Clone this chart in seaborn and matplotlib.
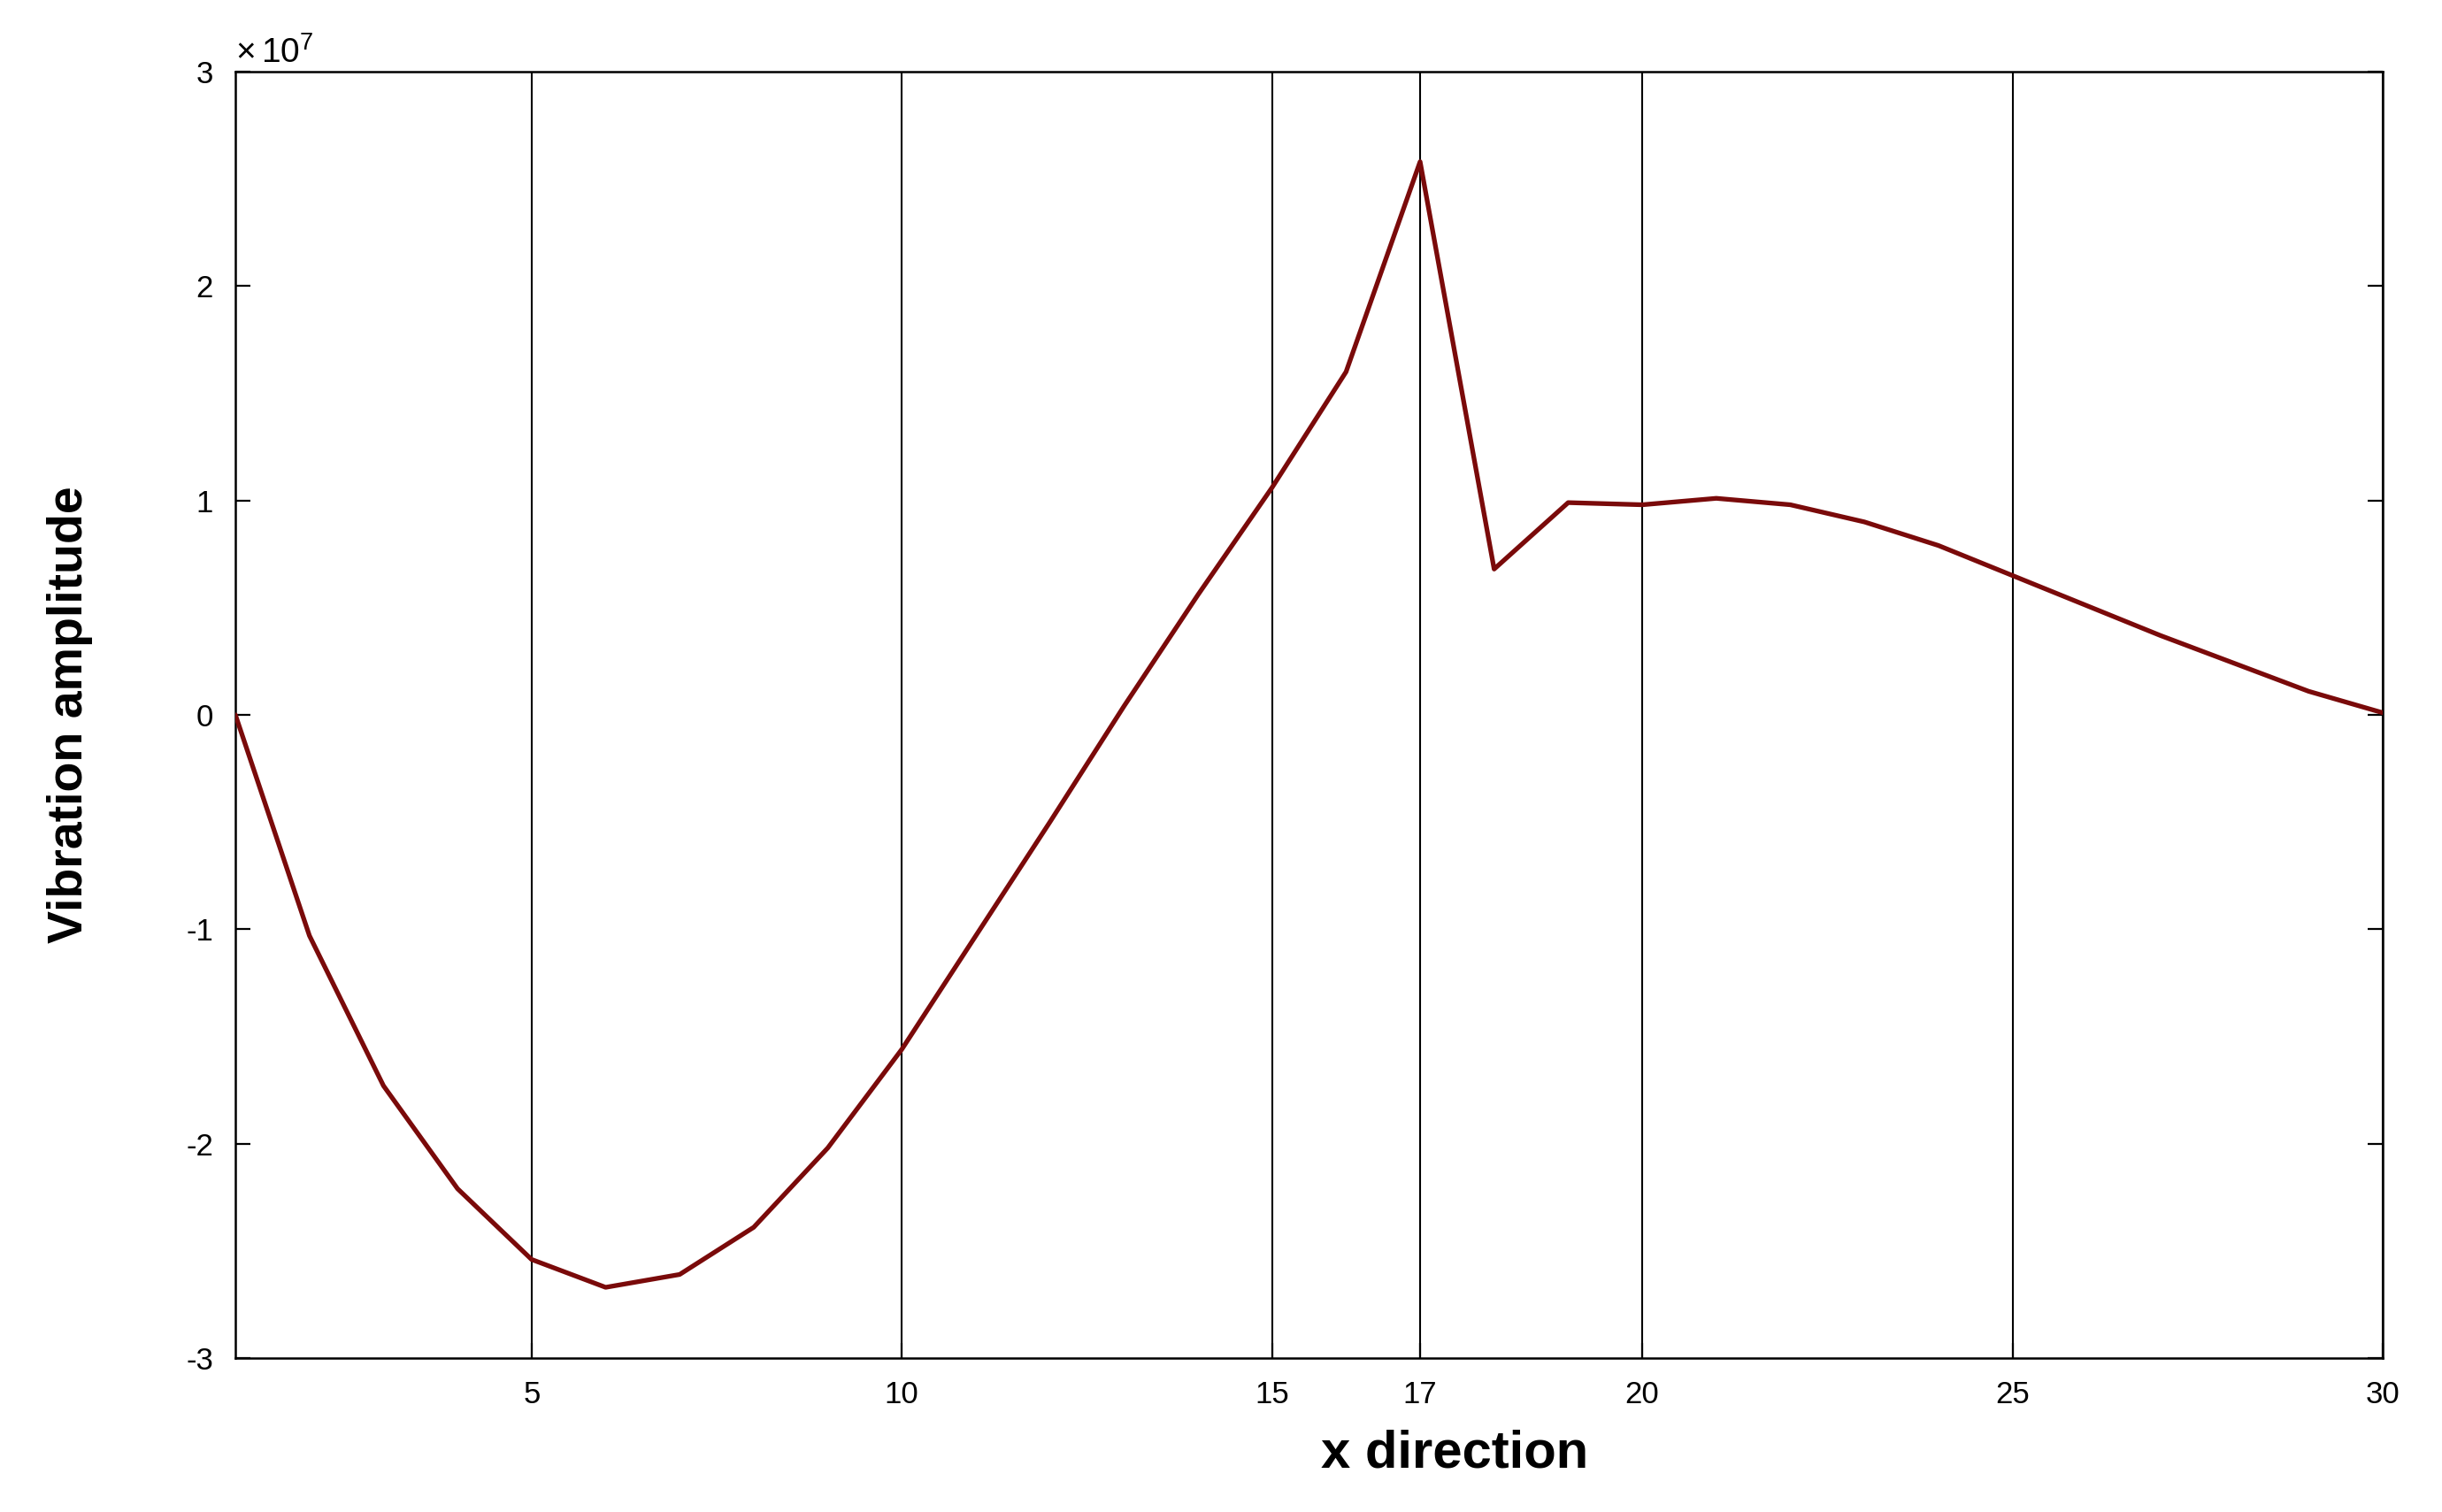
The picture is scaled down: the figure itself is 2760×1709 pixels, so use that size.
import numpy as np
import pandas as pd

import matplotlib
matplotlib.use('Agg')

import matplotlib.pyplot as plt
import matplotlib.ticker as mticker
import seaborn as sns


# =========================================================
# DATA (amplitude in units of 1e7)
# =========================================================

x_pos = list(range(1, 31))

amp_e7 = [
    0.00, -1.03, -1.73, -2.21, -2.54,
    -2.67, -2.61, -2.39, -2.02, -1.56,
    -1.03, -0.50, 0.04, 0.56, 1.06,
    1.60, 2.58, 0.68, 0.99, 0.98,
    1.01, 0.98, 0.90, 0.79, 0.65,
    0.51, 0.37, 0.24, 0.11, 0.01,
]

x_ticks = [5, 10, 15, 17, 20, 25, 30]

y_ticks = [-3, -2, -1, 0, 1, 2, 3]


df = pd.DataFrame({
    'x': x_pos,
    'amp': np.array(amp_e7) * 1e7,
})


# =========================================================
# STYLE
# =========================================================

sns.set_style('white')

plt.rcParams['font.family'] = ['Liberation Sans', 'DejaVu Sans']
plt.rcParams['axes.unicode_minus'] = False
plt.rcParams['mathtext.fontset'] = 'custom'
plt.rcParams['mathtext.rm'] = 'Liberation Sans'
plt.rcParams['text.color'] = 'black'
plt.rcParams['axes.labelcolor'] = 'black'
plt.rcParams['xtick.color'] = 'black'
plt.rcParams['ytick.color'] = 'black'


# =========================================================
# FIGURE
# =========================================================

fig = plt.figure(figsize=(13.8, 8.545), dpi=200)

ax = fig.add_axes([0.0964, 0.1018, 0.8793, 0.8508])

# vertical grid lines at the x ticks
for xv in x_ticks:
    ax.axvline(xv, color='black', linewidth=0.75, zorder=1)

sns.lineplot(
    data=df,
    x='x',
    y='amp',
    color='#7a0a0a',
    linewidth=1.9,
    ax=ax,
    zorder=3
)

ax.set_xlim(1, 30)
ax.set_ylim(-3e7, 3e7)

ax.set_xticks(x_ticks)
ax.set_yticks([v * 1e7 for v in y_ticks])

ax.yaxis.set_major_formatter(
    mticker.FuncFormatter(lambda v, p: f"{v / 1e7:g}")
)

ax.text(
    0.0,
    1.0015,
    r'$\times\,10^{7}$',
    transform=ax.transAxes,
    fontsize=14,
    ha='left',
    va='bottom'
)

ax.tick_params(
    axis='both',
    direction='in',
    length=6,
    width=0.8,
    labelsize=12.5,
    left=True,
    right=True,
    bottom=True,
    top=False,
    pad=9
)

for sp in ax.spines.values():
    sp.set_color('black')
    sp.set_linewidth(0.9)

ax.set_xlabel(
    "x direction",
    fontsize=21.5,
    fontweight='bold',
    labelpad=8
)
ax.xaxis.label.set_x(0.568)

ax.set_ylabel(
    "Vibration amplitude",
    fontsize=20,
    fontweight='bold',
    labelpad=38
)


# =========================================================
# SAVE
# =========================================================

plt.savefig('out.png', dpi=200)

plt.close()
